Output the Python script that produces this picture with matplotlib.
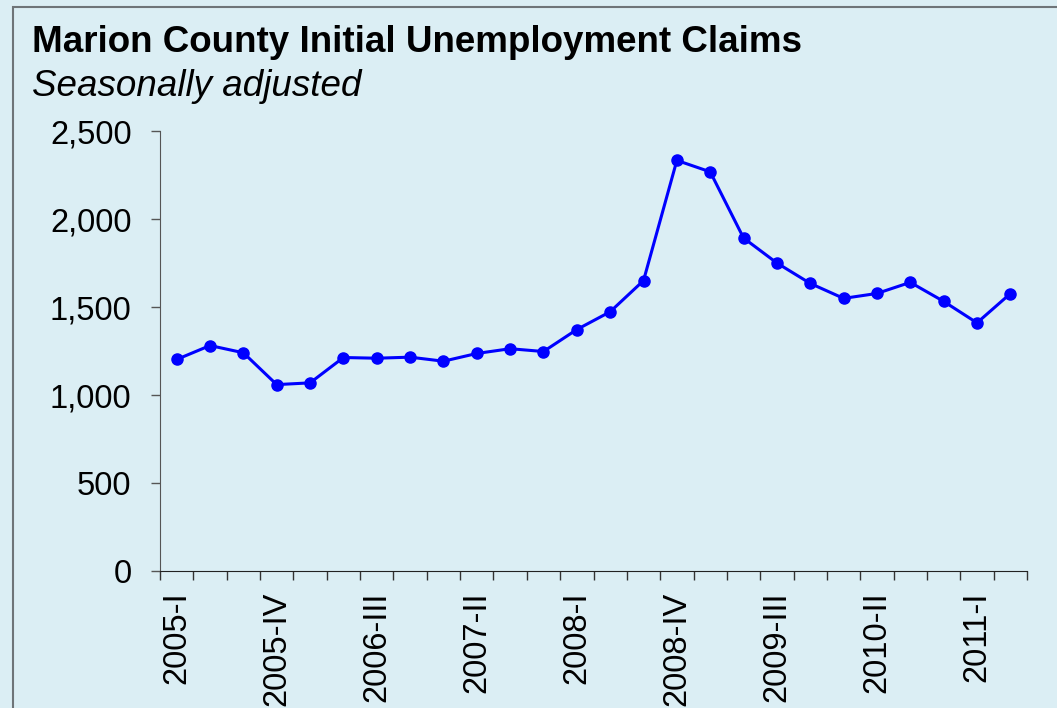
import matplotlib.pyplot as plt
from matplotlib.patches import Rectangle
from matplotlib.ticker import FuncFormatter

quarters = ["2005-I", "2005-II", "2005-III", "2005-IV",
            "2006-I", "2006-II", "2006-III", "2006-IV",
            "2007-I", "2007-II", "2007-III", "2007-IV",
            "2008-I", "2008-II", "2008-III", "2008-IV",
            "2009-I", "2009-II", "2009-III", "2009-IV",
            "2010-I", "2010-II", "2010-III", "2010-IV",
            "2011-I", "2011-II"]
claims = [1202, 1281, 1240, 1059, 1069, 1213, 1209, 1215, 1192, 1236,
          1263, 1247, 1372, 1473, 1650, 2333, 2268, 1892, 1750, 1634,
          1549, 1577, 1640, 1532, 1410, 1576]

bg = "#dbeef4"
plt.rcParams["font.family"] = ["Liberation Sans", "DejaVu Sans"]

fig = plt.figure(figsize=(10.57, 7.08), dpi=100, facecolor=bg)
fig.patches.append(Rectangle((13 / 1057, -0.1), 1.2, 1 - 7 / 708 + 0.1,
                             transform=fig.transFigure, fill=False,
                             edgecolor="#6e7478", linewidth=1.5))

ax = fig.add_axes([160 / 1057, 1 - 571 / 708, 867 / 1057, 440 / 708])
ax.set_facecolor(bg)

x = list(range(len(claims)))
ax.plot(x, claims, color="#0000ff", linewidth=2.2, marker="o", markersize=8)

ax.set_xlim(-0.5, len(claims) - 0.5)
ax.set_ylim(0, 2500)
ax.set_yticks(range(0, 2501, 500))
ax.yaxis.set_major_formatter(FuncFormatter(lambda v, p: f"{int(v):,}"))

ax.set_xticks([i - 0.5 for i in range(len(claims) + 1)], minor=True)
ax.set_xticks(x[::3])
ax.set_xticklabels(quarters[::3], rotation=90)
ax.tick_params(axis="x", which="major", length=0, pad=15, labelsize=23.5)
ax.tick_params(axis="x", which="minor", length=6.5, width=1, color="#333333",
               direction="out")
ax.tick_params(axis="y", length=6.5, width=1, color="#555555", labelsize=23.5,
               pad=14)

for s in ["top", "right"]:
    ax.spines[s].set_visible(False)
ax.spines["left"].set_color("#555555")
ax.spines["bottom"].set_color("#222222")

fig.text(32 / 1057, 1 - 42 / 708, "Marion County Initial Unemployment Claims",
         fontsize=26.5, fontweight="bold", va="center", ha="left")
fig.text(32 / 1057, 1 - 87 / 708, "Seasonally adjusted",
         fontsize=26.5, fontstyle="italic", va="center", ha="left")

fig.savefig("out.png", dpi=100, facecolor=bg)
